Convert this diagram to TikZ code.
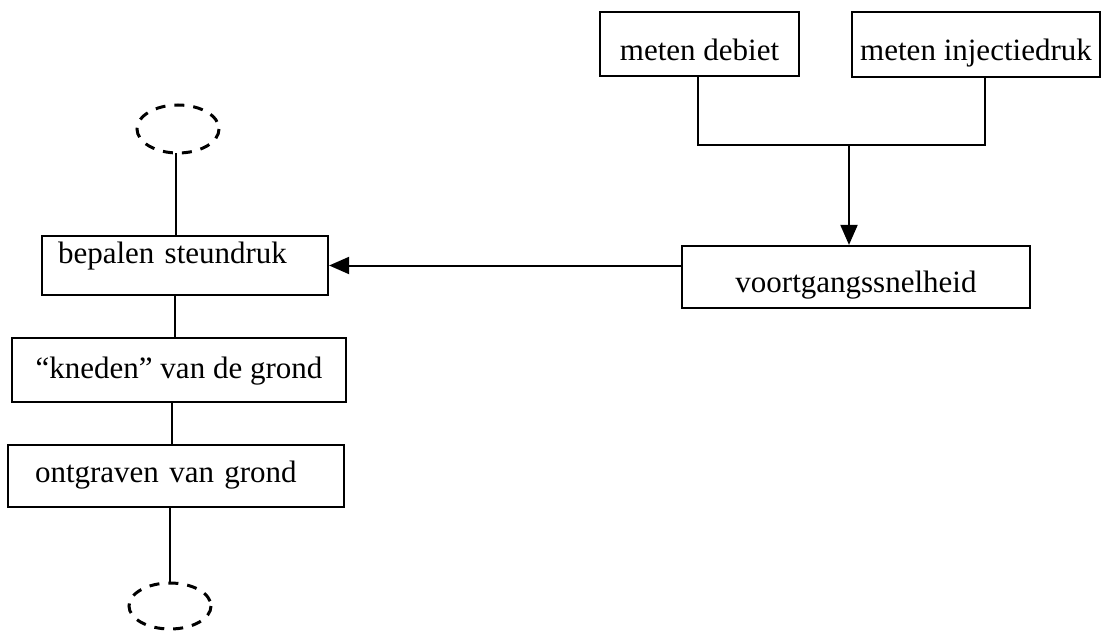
\documentclass[tikz,border=0pt]{standalone}
\usepackage{fontspec}
\setmainfont{Liberation Serif}
\usetikzlibrary{arrows.meta}
\begin{document}
\begin{tikzpicture}[x=1pt,y=-1pt,
  every node/.style={font=\fontsize{31}{36}\selectfont},
  box/.style={draw,line width=2.2pt,inner xsep=0pt,inner ysep=0pt},
  wire/.style={line width=2pt},
  arrow/.style={wire,-{Triangle[length=20pt,width=17pt]}},
  loop/.style={draw,dashed,line width=3pt,dash pattern=on 10pt off 10pt,ellipse}
]
\useasboundingbox (0,0) rectangle (1102,631);

% measuring inputs
\node[box,minimum width=199pt,text height=49pt,text depth=15pt] (deb) at (699.5,44) {meten debiet};
\node[box,minimum width=248pt,text height=49pt,text depth=16pt] (inj) at (976,44.5) {meten injectiedruk};

% advance rate
\node[box,minimum width=348pt,text height=46pt,text depth=16pt] (voort) at (856,277) {voortgangssnelheid};

% process chain on the left
\node[box,text width=254pt,align=left,inner xsep=16pt,text height=27pt,text depth=32pt] (bep) at (185,265.5) {bepalen steundruk};
\node[box,minimum width=334pt,text height=40pt,text depth=24pt] (kned) at (179,370) {“kneden” van de grond};
\node[box,text width=282pt,align=left,inner xsep=27pt,text height=37pt,text depth=25pt] (ontg) at (176,476) {ontgraven van grond};

% open ends of the chain
\draw[dashed,line width=3pt,dash pattern=on 10pt off 9pt] (178,129) ellipse [x radius=41, y radius=24];
\node[minimum width=82pt,minimum height=48pt,inner sep=0pt] (top) at (178,129) {};
\draw[dashed,line width=3pt,dash pattern=on 10pt off 9pt] (170,606) ellipse [x radius=41, y radius=23];
\node[minimum width=82pt,minimum height=46pt,inner sep=0pt] (bot) at (170,606) {};

% joining the two measurements
\coordinate (j) at (849,145);
\draw[wire] ([xshift=-1.5pt]deb.south) |- ([xshift=9pt]inj.south |- j) -- ([xshift=9pt]inj.south);
\draw[arrow] (j) -- (j |- voort.north);

% advance rate feeds the support pressure
\draw[arrow] (voort.west |- bep.east) -- (bep.east);

% vertical chain
\draw[wire] ([xshift=-2pt]top.south) -- ([xshift=-2pt]top.south |- bep.north);
\draw[wire] ([xshift=-10pt]bep.south) -- ([xshift=-10pt]bep.south |- kned.north);
\draw[wire] ([xshift=-7pt]kned.south) -- ([xshift=-7pt]kned.south |- ontg.north);
\draw[wire] ([xshift=-6pt]ontg.south) -- ([xshift=-6pt]ontg.south |- bot.north);
\end{tikzpicture}
\end{document}
